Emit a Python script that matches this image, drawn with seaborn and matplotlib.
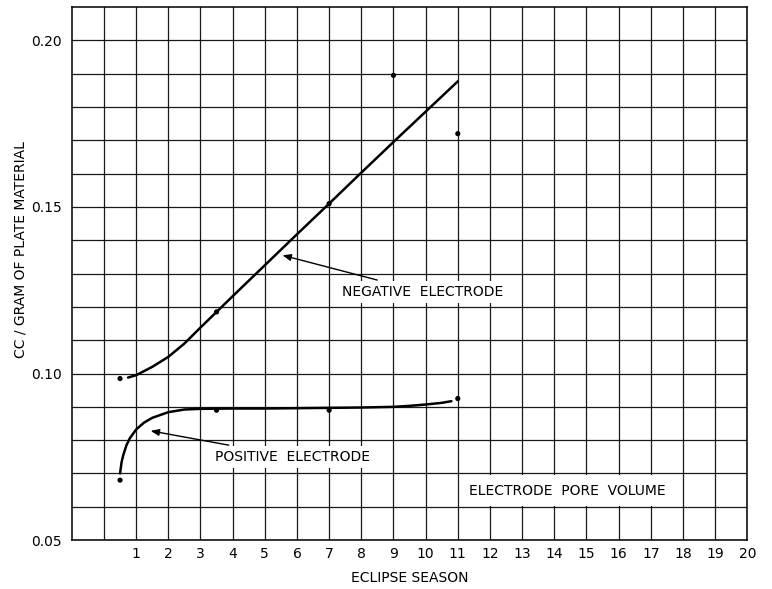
import numpy as np
import pandas as pd
import matplotlib
matplotlib.use("Agg")
import matplotlib.pyplot as plt
import seaborn as sns

# curve readings (eclipse season, cc / gram)
neg_curve_x = [0.75, 1, 1.5, 2, 2.5, 3, 3.5, 4, 5, 6, 7, 8, 9, 10, 11]
neg_curve_y = [0.0988, 0.0995, 0.102, 0.105, 0.109, 0.1138, 0.1185, 0.1232, 0.1325, 0.1418, 0.151,
               0.1603, 0.1695, 0.1786, 0.1877]
pos_curve_x = [0.5, 0.55, 0.6, 0.7, 0.8, 1, 1.25, 1.5, 2, 2.5, 3, 4, 5, 6, 7, 8, 9, 9.5, 10, 10.5, 10.8]
pos_curve_y = [0.070, 0.0735, 0.0755, 0.0785, 0.0805, 0.0832, 0.0853, 0.0867, 0.0884, 0.0892, 0.0894,
               0.0895, 0.0895, 0.0896, 0.0897, 0.0898, 0.0900, 0.0903, 0.0907, 0.0912, 0.0917]

# measured points
neg_pts_x = [0.5, 3.5, 7, 9, 11]
neg_pts_y = [0.0985, 0.1185, 0.151, 0.1895, 0.172]
pos_pts_x = [0.5, 3.5, 7, 11]
pos_pts_y = [0.068, 0.089, 0.089, 0.0925]

x_labels = [str(i) for i in range(1, 21)]
y_labels = ["0.05", "0.10", "0.15", "0.20"]

sns.set_style("white")
plt.rcParams["font.family"] = ["DejaVu Sans"]
plt.rcParams.update({"text.color": "black", "axes.labelcolor": "black",
                     "xtick.color": "black", "ytick.color": "black"})

fig = plt.figure(figsize=(7.72, 5.89), dpi=100)
ax = fig.add_axes([0.093, 0.083, 0.875, 0.905])

neg_curve = pd.DataFrame({"season": neg_curve_x, "vol": neg_curve_y})
pos_curve = pd.DataFrame({"season": pos_curve_x, "vol": pos_curve_y})
pts = pd.DataFrame({"season": neg_pts_x + pos_pts_x, "vol": neg_pts_y + pos_pts_y})

sns.lineplot(data=neg_curve, x="season", y="vol", color="black", linewidth=1.8, ax=ax, zorder=4)
sns.lineplot(data=pos_curve, x="season", y="vol", color="black", linewidth=1.8, ax=ax, zorder=4)
sns.scatterplot(data=pts, x="season", y="vol", color="black", s=14, edgecolor="none", ax=ax, zorder=5)

ax.set_xlim(-1, 20)
ax.set_ylim(0.05, 0.21)

# grid every season and every 0.01
ax.set_xticks(range(1, 21))
ax.set_xticklabels(x_labels)
ax.set_xticks([0], minor=True)
ax.set_yticks([0.05, 0.10, 0.15, 0.20])
ax.set_yticklabels(y_labels)
ax.set_yticks(np.arange(0.06, 0.21, 0.01), minor=True)
ax.grid(True, which="both", color="black", linewidth=0.9, alpha=0.9)
ax.tick_params(axis="x", which="both", length=0, pad=5, labelsize=10)
ax.tick_params(axis="y", which="major", length=4, width=1, pad=3, labelsize=10)
ax.tick_params(axis="y", which="minor", length=0)
for s in ax.spines.values():
    s.set_color("black")
    s.set_linewidth(1.1)

ax.set_xlabel("ECLIPSE SEASON", fontsize=10)
ax.set_ylabel("CC / GRAM OF PLATE MATERIAL", fontsize=10)
ax.xaxis.set_label_coords(0.5, -0.058)
ax.yaxis.set_label_coords(-0.065, 0.546)

box = dict(facecolor="white", edgecolor="none", pad=3)
arrow = dict(arrowstyle="-|>,head_length=0.5,head_width=0.2", color="black", lw=1,
             shrinkA=2, shrinkB=0)
ax.annotate("NEGATIVE  ELECTRODE", xy=(5.55, 0.1355), xytext=(7.4, 0.1245),
            ha="left", va="center", fontsize=10, bbox=box, arrowprops=arrow, zorder=6)
ax.annotate("POSITIVE  ELECTRODE", xy=(1.45, 0.0828), xytext=(3.45, 0.075),
            ha="left", va="center", fontsize=10, bbox=box, arrowprops=arrow, zorder=6)
ax.text(11.35, 0.0648, "ELECTRODE  PORE  VOLUME", ha="left", va="center", fontsize=10,
        bbox=dict(facecolor="white", edgecolor="none", pad=6), zorder=6)

fig.savefig("out.png", dpi=100)
